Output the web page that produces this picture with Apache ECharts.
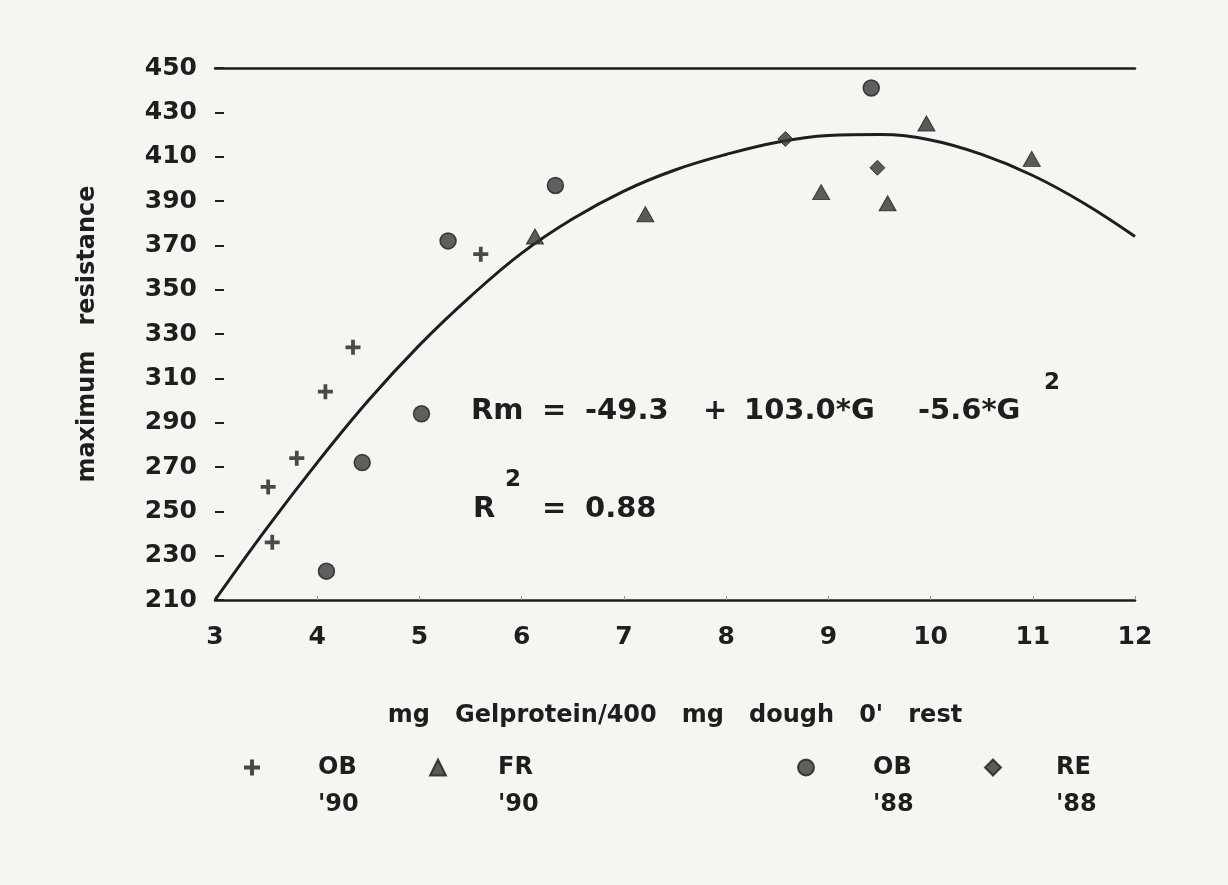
<!DOCTYPE html>
<html>
<head>
<meta charset="utf-8">
<script src="https://cdn.jsdelivr.net/npm/echarts@6/dist/echarts.min.js"></script>
<style>
  html, body { margin: 0; padding: 0; background: #f5f5f2; }
  #chart { width: 1228px; height: 885px; }
</style>
</head>
<body>
<div id="chart"></div>
<script>
// values
const ob90 = [[3.56, 236], [3.52, 261], [3.80, 274], [4.08, 304], [4.35, 324], [5.60, 366]]
const fr90 = [[6.13, 374], [7.21, 384], [8.93, 394], [9.58, 389], [9.96, 425], [10.99, 409]]
const ob88 = [[4.09, 223], [4.44, 272], [5.02, 294], [5.28, 372], [6.33, 397], [9.42, 441]]
const re88 = [[8.58, 418], [9.48, 405]]
// fitted curve as drawn in the figure
const fitX = [3, 3.5, 4, 4.5, 5, 5.5, 6, 6.5, 7, 7.5, 8, 8.5, 9, 9.5, 10, 10.5, 11, 11.5, 12]
const fitY = [210, 242, 272, 300, 325, 347, 366.5, 382, 394.5, 404, 411, 416.5, 419.5, 420, 417.5, 411, 401.5, 389, 374]
const xTicks = { min: 3, max: 12, step: 1 }
const yTicks = { min: 210, max: 450, step: 20 }

const plusIcon = 'path://M6,0 H10 V6 H16 V10 H10 V16 H6 V10 H0 V6 H6 Z'
const font = 'DejaVu Sans'
const ink = '#1e1e1e'
const eqFont = 'bold 29px "DejaVu Sans"'
const supFont = 'bold 23px "DejaVu Sans"'

let chart = echarts.init(document.getElementById('chart'))

// one legend per item, the scan spaces them unevenly
function legendAt (name, left, padLeft) {
  return {
    data: [name],
    left: left,
    top: 712,
    padding: 0,
    itemWidth: 16,
    itemHeight: 16,
    selectedMode: false,
    // blank first line keeps the icon level with the first text line
    formatter: function (n) {
      return '\n' + n.replace(' ', '\n')
    },
    textStyle: {
      color: ink,
      fontFamily: font,
      fontWeight: 'bold',
      fontSize: 24,
      lineHeight: 37,
      padding: [0, 0, 0, padLeft]
    }
  }
}

// equation pieces, placed like the typed original
function txt (s, left, top, f) {
  return { type: 'text', left: left, top: top, style: { text: s, fill: ink, font: f || eqFont } }
}

let option = {
  backgroundColor: '#f5f5f2',
  animation: false,
  grid: { left: 215, right: 93, top: 68, bottom: 285 },
  xAxis: [
    {
      type: 'value',
      min: xTicks.min,
      max: xTicks.max,
      interval: xTicks.step,
      name: "mg   Gelprotein/400   mg   dough   0'   rest",
      nameLocation: 'middle',
      nameGap: 104,
      nameTextStyle: { color: ink, fontFamily: font, fontSize: 24, fontWeight: 'bold' },
      axisLine: { show: true, lineStyle: { color: ink, width: 2.5 } },
      axisTick: { show: true, inside: true, length: 4, lineStyle: { color: '#999', width: 1 } },
      splitLine: { show: false },
      axisLabel: { color: ink, fontFamily: font, fontSize: 25, fontWeight: 'bold', margin: 25 }
    },
    {
      type: 'value',
      position: 'top',
      min: xTicks.min,
      max: xTicks.max,
      axisLine: { show: true, lineStyle: { color: ink, width: 2.5 } },
      axisTick: { show: false },
      axisLabel: { show: false },
      splitLine: { show: false }
    }
  ],
  yAxis: {
    type: 'value',
    min: yTicks.min,
    max: yTicks.max,
    interval: yTicks.step,
    name: 'maximum   resistance',
    nameLocation: 'middle',
    nameGap: 115,
    nameTextStyle: { color: ink, fontFamily: font, fontSize: 24, fontWeight: 'bold' },
    axisLine: { show: false },
    axisTick: { show: true, inside: true, length: 9, lineStyle: { color: ink, width: 2 } },
    splitLine: { show: false },
    axisLabel: { color: ink, fontFamily: font, fontSize: 25, fontWeight: 'bold', margin: 18 }
  },
  legend: [
    legendAt("OB '90", 244, 53),
    legendAt("FR '90", 429, 47),
    legendAt("OB '88", 797, 54),
    legendAt("RE '88", 984, 50)
  ],
  graphic: [
    txt('Rm', 471, 397),
    txt('=', 542, 397),
    txt('-49.3', 585, 397),
    txt('+', 703, 397),
    txt('103.0*G', 744, 397),
    txt('-5.6*G', 918, 397),
    txt('2', 1044, 372, supFont),
    txt('R', 473, 495),
    txt('2', 505, 469, supFont),
    txt('=', 542, 495),
    txt('0.88', 585, 495)
  ],
  series: [
    {
      name: "OB '90",
      type: 'scatter',
      symbol: plusIcon,
      symbolSize: 15,
      itemStyle: { color: ink },
      data: ob90
    },
    {
      name: "FR '90",
      type: 'scatter',
      symbol: 'triangle',
      symbolSize: [17, 15],
      itemStyle: { color: '#333', borderColor: ink, borderWidth: 1 },
      data: fr90
    },
    {
      name: "OB '88",
      type: 'scatter',
      symbol: 'circle',
      symbolSize: 16,
      itemStyle: { color: '#3a3a3a', borderColor: ink, borderWidth: 1.5 },
      data: ob88
    },
    {
      name: "RE '88",
      type: 'scatter',
      symbol: 'diamond',
      symbolSize: 15,
      itemStyle: { color: '#333', borderColor: ink, borderWidth: 1 },
      data: re88
    },
    {
      name: 'fit',
      type: 'line',
      smooth: 0.4,
      showSymbol: false,
      silent: true,
      lineStyle: { color: ink, width: 3 },
      data: fitX.map((x, i) => [x, fitY[i]]),
      z: 1
    }
  ]
}
chart.setOption(option)
</script>
</body>
</html>
